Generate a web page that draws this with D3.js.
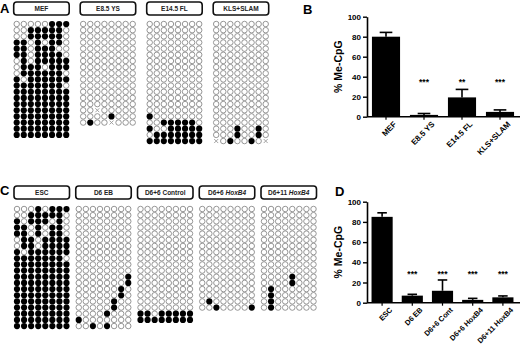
<!DOCTYPE html>
<html>
<head>
<meta charset="utf-8">
<script src="https://cdn.jsdelivr.net/npm/d3@7"></script>
<style>
  body { margin: 0; background: #fff; }
  text { font-family: "Liberation Sans", Arial, sans-serif; }
</style>
</head>
<body>
<div id="chart"></div>
<script>
// ---- data ----
// bisulfite clone rows: 1 = methylated, 0 = unmethylated, x = not determined
const groupsA = ["MEF", "E8.5 YS", "E14.5 FL", "KLS+SLAM"];
const mefRows = ["00000111", "00111110", "00111110", "11010110", "11011100", "11011110",
  "01011111", "01110111", "01111110", "10111111", "11111110", "11111111", "11111111",
  "11111111", "11111111", "11111111", "11111111", "11111111", "11111111"];
const e85Rows = ["00000000", "00000000", "00000000", "00000000", "00000000", "00000000",
  "00000000", "00000000", "00000000", "00000000", "00000000", "00000000", "00000000",
  "00000000", "00x00000", "00001000", "0100x000"];
const e145Rows = ["00000000", "00000000", "00000000", "00000000", "00000000", "00000000",
  "00000000", "00000000", "00000000", "00000000", "00000000", "00000000", "00000000",
  "00000000", "00000000", "10000000", "00111110", "10011111", "01111111", "11111111"];
const klsRows = ["00000000", "00000000", "00000000", "00000000", "00000000", "00000000",
  "00000000", "00000000", "00000000", "00000000", "00000000", "00000000", "00000000",
  "00000000", "00000000", "00000000", "00000000", "00010010", "00010010", "x010010x"];

const groupsC = ["ESC", "D6 EB", "D6+6  Control", "D6+6 HoxB4", "D6+11 HoxB4"];
const escRows = ["00010111", "00111110", "10111010", "11010110", "11010110", "01101111",
  "01101111", "10111111", "11111110", "11111111", "11111111", "11111111", "11111111",
  "11111111", "11111111", "11111111", "11111111", "11111111", "11111111", "11111111"];
const d6ebRows = ["00000000", "00000000", "00000000", "00000000", "00000000", "00000000",
  "00000000", "00000000", "00000000", "00000000", "00000000", "00000001", "00000001",
  "00000010", "00000010", "00000100", "00000100", "00001000", "10000000", "00101000"];
const ctrlRows = ["00000000", "00000000", "00000000", "00000000", "00000000", "00000000",
  "00000000", "00000000", "00000000", "00000000", "00000000", "00000000", "00000000",
  "00000000", "00000000", "00000000", "00000000", "11011111", "11111111"];
const hox6Rows = ["00000000", "00000000", "00000000", "00000000", "00000000", "00000000",
  "00000000", "00000000", "00000000", "00000000", "00000000", "00000000", "00000000",
  "00000000", "00000000", "01000000", "00100001"];
const hox11Rows = ["00000000", "00000000", "00000000", "00000000", "00000000", "00000000",
  "00000000", "00000000", "00000000", "00000000", "00000000", "00001000", "00001000",
  "01000000", "01000000", "01000000", "01000000"];

// bar charts: mean % methylated CpG and upper error
const catsB = ["MEF", "E8.5 YS", "E14.5 FL", "KLS+SLAM"];
const valsB = [80, 1.8, 19.3, 4.8];
const errB = [84.3, 3.2, 27.3, 6.8];
const starsB = ["", "***", "**", "***"];

const catsD = ["ESC", "D6 EB", "D6+6 Cont", "D6+6 HoxB4", "D6+11 HoxB4"];
const valsD = [85, 7, 11.8, 2.8, 5.3];
const errD = [89, 8.3, 22.5, 4.3, 6.7];
const starsD = ["", "***", "***", "***", "***"];

const yTicks = [0, 20, 40, 60, 80, 100];

// ---- drawing ----
const svg = d3.select("#chart").append("svg")
  .attr("width", 520).attr("height", 346);

function drawGrids(groups, rowsets, xFirst, xLast, boxY, rowY0) {
  const gx = d3.scaleLinear().domain([0, groups.length - 1]).range([xFirst, xLast]);
  const cx = d3.scaleLinear().domain([0, 7]).range([0, 49.5]);
  const ry = d3.scaleLinear().domain([0, 1]).range([rowY0, rowY0 + 6.16]);

  groups.forEach((name, i) => {
    const g = svg.append("g").attr("transform", `translate(${gx(i)},0)`);
    g.append("rect")
      .attr("x", -3).attr("y", boxY)
      .attr("width", 55.5).attr("height", 13)
      .attr("rx", 3)
      .attr("fill", "#fff").attr("stroke", "#111").attr("stroke-width", 1.6);
    const t = g.append("text")
      .attr("x", 24.75).attr("y", boxY + 9)
      .attr("text-anchor", "middle")
      .attr("font-size", 6.5).attr("font-weight", "bold").attr("fill", "#222");
    const m = name.match(/^(.*\s)(HoxB4)$/);
    if (m) {
      t.append("tspan").text(m[1]);
      t.append("tspan").attr("font-style", "italic").text(m[2]);
    } else {
      t.text(name);
    }

    const cells = [];
    rowsets[i].forEach((row, r) => {
      row.split("").forEach((v, c) => cells.push({ r, c, v }));
    });

    g.selectAll("circle.open").data(cells.filter(d => d.v === "0"))
      .join("circle")
      .attr("class", "open")
      .attr("cx", d => cx(d.c)).attr("cy", d => ry(d.r))
      .attr("r", 2.75)
      .attr("fill", "#fff").attr("stroke", "#8a8a8a").attr("stroke-width", 0.9);

    g.selectAll("circle.full").data(cells.filter(d => d.v === "1"))
      .join("circle")
      .attr("class", "full")
      .attr("cx", d => cx(d.c)).attr("cy", d => ry(d.r))
      .attr("r", 3.1)
      .attr("fill", "#000");

    const crosses = g.selectAll("g.cross").data(cells.filter(d => d.v === "x"))
      .join("g")
      .attr("class", "cross")
      .attr("transform", d => `translate(${cx(d.c)},${ry(d.r)})`);
    crosses.append("path")
      .attr("d", "M-2,-2L2,2M-2,2L2,-2")
      .attr("stroke", "#999").attr("stroke-width", 0.9);
  });
}

drawGrids(groupsA, [mefRows, e85Rows, e145Rows, klsRows], 16.7, 216.2, 2, 24);
drawGrids(groupsC, [escRows, d6ebRows, ctrlRows, hox6Rows, hox11Rows], 17, 264, 186, 209);

function barChart(cats, vals, errs, stars, xRange, yRange, pad, starY, labelSize) {
  const x = d3.scaleBand().domain(cats).range(xRange)
    .paddingInner(pad).paddingOuter(pad / 2);
  const y = d3.scaleLinear().domain([0, 100]).range(yRange);
  const g = svg.append("g");

  // error bars (upper only)
  const capW = x.bandwidth() * 0.45;
  cats.forEach((c, i) => {
    const cxm = x(c) + x.bandwidth() / 2;
    g.append("line")
      .attr("x1", cxm).attr("x2", cxm)
      .attr("y1", y(vals[i])).attr("y2", y(errs[i]))
      .attr("stroke", "#000").attr("stroke-width", 1.6);
    g.append("line")
      .attr("x1", cxm - capW / 2).attr("x2", cxm + capW / 2)
      .attr("y1", y(errs[i])).attr("y2", y(errs[i]))
      .attr("stroke", "#000").attr("stroke-width", 1.6);
  });

  g.selectAll("rect.bar").data(cats)
    .join("rect")
    .attr("x", d => x(d))
    .attr("y", (d, i) => y(vals[i]))
    .attr("width", x.bandwidth())
    .attr("height", (d, i) => y(0) - y(vals[i]))
    .attr("fill", "#000");

  g.selectAll("text.star").data(cats)
    .join("text")
    .attr("x", d => x(d) + x.bandwidth() / 2)
    .attr("y", y(starY) + 4)
    .attr("text-anchor", "middle")
    .attr("font-size", 8.5).attr("font-weight", "bold")
    .text((d, i) => stars[i]);

  const yAxis = g.append("g")
    .attr("transform", `translate(${xRange[0]},0)`)
    .call(d3.axisLeft(y).tickValues(yTicks).tickSize(4).tickSizeOuter(0).tickPadding(2));
  yAxis.select(".domain").attr("stroke-width", 1.6);
  yAxis.selectAll(".tick line").attr("stroke-width", 1.4);
  yAxis.selectAll("text").attr("font-size", 8).attr("font-weight", "bold")
    .attr("font-family", "Liberation Sans, Arial, sans-serif");

  const xAxis = g.append("g")
    .attr("transform", `translate(0,${y(0)})`)
    .call(d3.axisBottom(x).tickSize(3).tickSizeOuter(0));
  xAxis.select(".domain")
    .attr("d", `M${xRange[0]},0H520`)
    .attr("stroke-width", 1.6);
  xAxis.selectAll(".tick line").attr("stroke-width", 1.2);
  xAxis.selectAll("text")
    .attr("font-size", labelSize).attr("font-weight", "bold")
    .attr("font-family", "Liberation Sans, Arial, sans-serif")
    .attr("text-anchor", "end")
    .attr("transform", "translate(5,2) rotate(-45)")
    .attr("dy", "0.7em").attr("y", 3);

  g.append("text")
    .attr("transform", `translate(${xRange[0] - 25},${(yRange[0] + yRange[1]) / 2}) rotate(-90)`)
    .attr("text-anchor", "middle")
    .attr("font-size", 10.5).attr("font-weight", "bold")
    .text("% Me-CpG");
}

barChart(catsB, valsB, errB, starsB, [367, 519], [116.7, 16.7], 0.26, 36, 8);
barChart(catsD, valsD, errD, starsD, [367, 518], [302.7, 201.7], 0.3, 29.5, 7.4);

// panel letters
const letters = [
  { t: "A", x: 0, y: 13 },
  { t: "B", x: 303, y: 14 },
  { t: "C", x: 0, y: 195 },
  { t: "D", x: 335, y: 196 }
];
svg.selectAll("text.letter").data(letters)
  .join("text")
  .attr("x", d => d.x).attr("y", d => d.y)
  .attr("font-size", 13).attr("font-weight", "bold")
  .text(d => d.t);
</script>
</body>
</html>
